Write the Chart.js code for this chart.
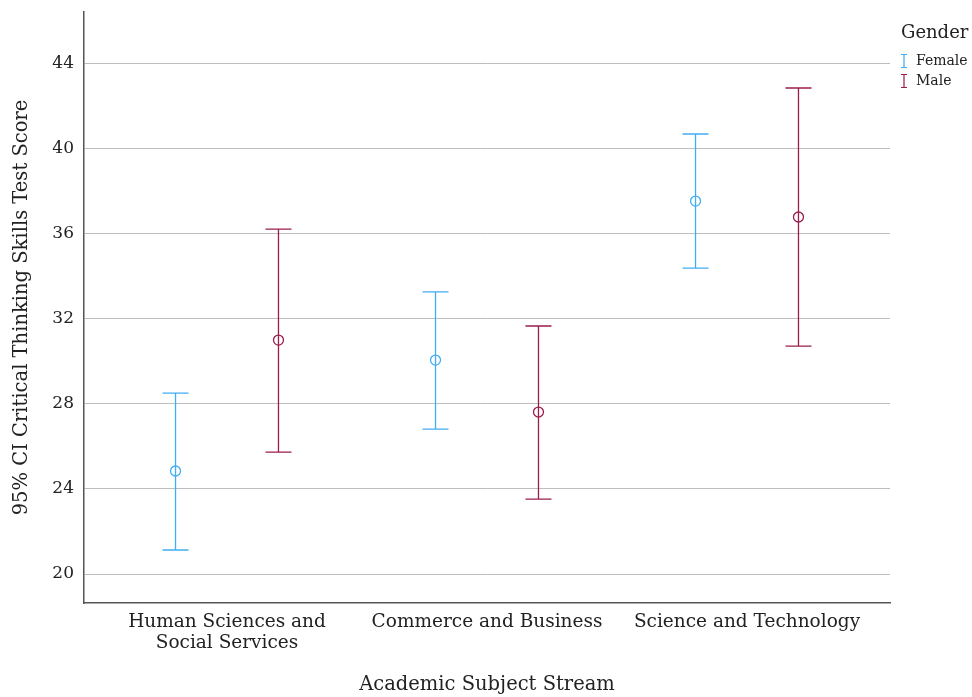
<!DOCTYPE html>
<html>
<head>
<meta charset="utf-8">
<script src="https://cdn.jsdelivr.net/npm/chart.js@4"></script>
<style>
  html, body { margin: 0; padding: 0; background: #fff; }
  #wrap { width: 972px; height: 697px; }
</style>
</head>
<body>
<div id="wrap"><canvas id="chart"></canvas></div>
<script>
const categories = [['Human Sciences and', 'Social Services'], 'Commerce and Business', 'Science and Technology'];
const genders = ['Female', 'Male'];
const femaleMean = [24.84, 30.05, 37.52];
const femaleLow = [21.13, 26.81, 34.37];
const femaleHigh = [28.50, 33.25, 40.67];
const maleMean = [30.99, 27.61, 36.77];
const maleLow = [25.73, 23.52, 30.71];
const maleHigh = [36.20, 31.65, 42.83];
const yTicks = [20, 24, 28, 32, 36, 40, 44];

const FONT = "'DejaVu Serif', serif";
const colors = ['#41adf2', '#9b1d4c'];
const dodge = 0.198;

function points(means, shift) {
    return means.map((v, i) => ({ x: i + shift, y: v }));
}

const errorBars = {
    id: 'errorBars',
    afterDatasetsDraw(chart) {
        const ctx = chart.ctx;
        const xs = chart.scales.x;
        const ys = chart.scales.y;
        const sets = [[femaleLow, femaleHigh, -dodge], [maleLow, maleHigh, dodge]];
        ctx.save();
        sets.forEach((s, k) => {
            ctx.strokeStyle = colors[k];
            ctx.lineWidth = 1.3;
            s[0].forEach((lo, i) => {
                const x = xs.getPixelForValue(i + s[2]);
                const yl = ys.getPixelForValue(lo);
                const yh = ys.getPixelForValue(s[1][i]);
                ctx.beginPath();
                ctx.moveTo(x, yl); ctx.lineTo(x, yh);
                ctx.moveTo(x - 13, yl); ctx.lineTo(x + 13, yl);
                ctx.moveTo(x - 13, yh); ctx.lineTo(x + 13, yh);
                ctx.stroke();
            });
        });
        ctx.restore();
    }
};

const legendBox = {
    id: 'legendBox',
    afterDraw(chart) {
        const ctx = chart.ctx;
        ctx.save();
        ctx.fillStyle = '#222';
        ctx.textBaseline = 'middle';
        ctx.font = '18px ' + FONT;
        ctx.fillText('Gender', 901, 33);
        ctx.font = '14px ' + FONT;
        genders.forEach((g, i) => {
            const y = 61 + i * 20;
            ctx.strokeStyle = colors[i];
            ctx.lineWidth = 1.2;
            ctx.beginPath();
            ctx.moveTo(904, y - 6.5); ctx.lineTo(904, y + 6.5);
            ctx.moveTo(901, y - 6.5); ctx.lineTo(907, y - 6.5);
            ctx.moveTo(901, y + 6.5); ctx.lineTo(907, y + 6.5);
            ctx.stroke();
            ctx.fillStyle = '#222';
            ctx.fillText(g, 916, y);
        });
        ctx.restore();
    }
};

new Chart(document.getElementById('chart'), {
    type: 'scatter',
    data: {
        datasets: [{
            label: genders[0],
            data: points(femaleMean, -dodge),
            borderColor: colors[0],
            backgroundColor: 'rgba(0,0,0,0)',
            pointRadius: 5,
            pointBorderWidth: 1.3
        }, {
            label: genders[1],
            data: points(maleMean, dodge),
            borderColor: colors[1],
            backgroundColor: 'rgba(0,0,0,0)',
            pointRadius: 5,
            pointBorderWidth: 1.3
        }]
    },
    options: {
        responsive: true,
        maintainAspectRatio: false,
        animation: false,
        layout: { padding: { top: 12, right: 82, left: 0, bottom: 0 } },
        plugins: {
            legend: { display: false },
            tooltip: { enabled: false }
        },
        scales: {
            x: {
                type: 'linear',
                min: -0.55,
                max: 2.55,
                afterBuildTicks: (scale) => { scale.ticks = categories.map((c, i) => ({ value: i })); },
                afterFit: (scale) => { scale.height = 94; scale.paddingLeft = 0; scale.paddingRight = 0; },
                grid: { display: false, drawTicks: false },
                border: { display: true, color: '#555', width: 1.5 },
                ticks: {
                    color: '#222',
                    font: { family: FONT, size: 18.5, lineHeight: 1.13 },
                    padding: 9,
                    maxRotation: 0,
                    callback: (v) => categories[v]
                },
                title: {
                    display: true,
                    text: 'Academic Subject Stream',
                    color: '#222',
                    font: { family: FONT, size: 19.5 },
                    padding: { top: 14, bottom: 0 }
                }
            },
            y: {
                min: 18.64,
                max: 46.4,
                afterBuildTicks: (scale) => { scale.ticks = yTicks.map(v => ({ value: v })); },
                afterFit: (scale) => { scale.width = 84; scale.paddingTop = 0; scale.paddingBottom = 0; },
                grid: { color: '#bdbdbd', lineWidth: 1, drawTicks: false },
                border: { display: true, color: '#555', width: 1.5 },
                ticks: {
                    color: '#222',
                    font: { family: FONT, size: 17 },
                    padding: 10
                },
                title: {
                    display: true,
                    text: '95% CI Critical Thinking Skills Test Score',
                    color: '#222',
                    font: { family: FONT, size: 19.5 },
                    padding: { top: 10, bottom: 0 }
                }
            }
        }
    },
    plugins: [errorBars, legendBox]
});
</script>
</body>
</html>
